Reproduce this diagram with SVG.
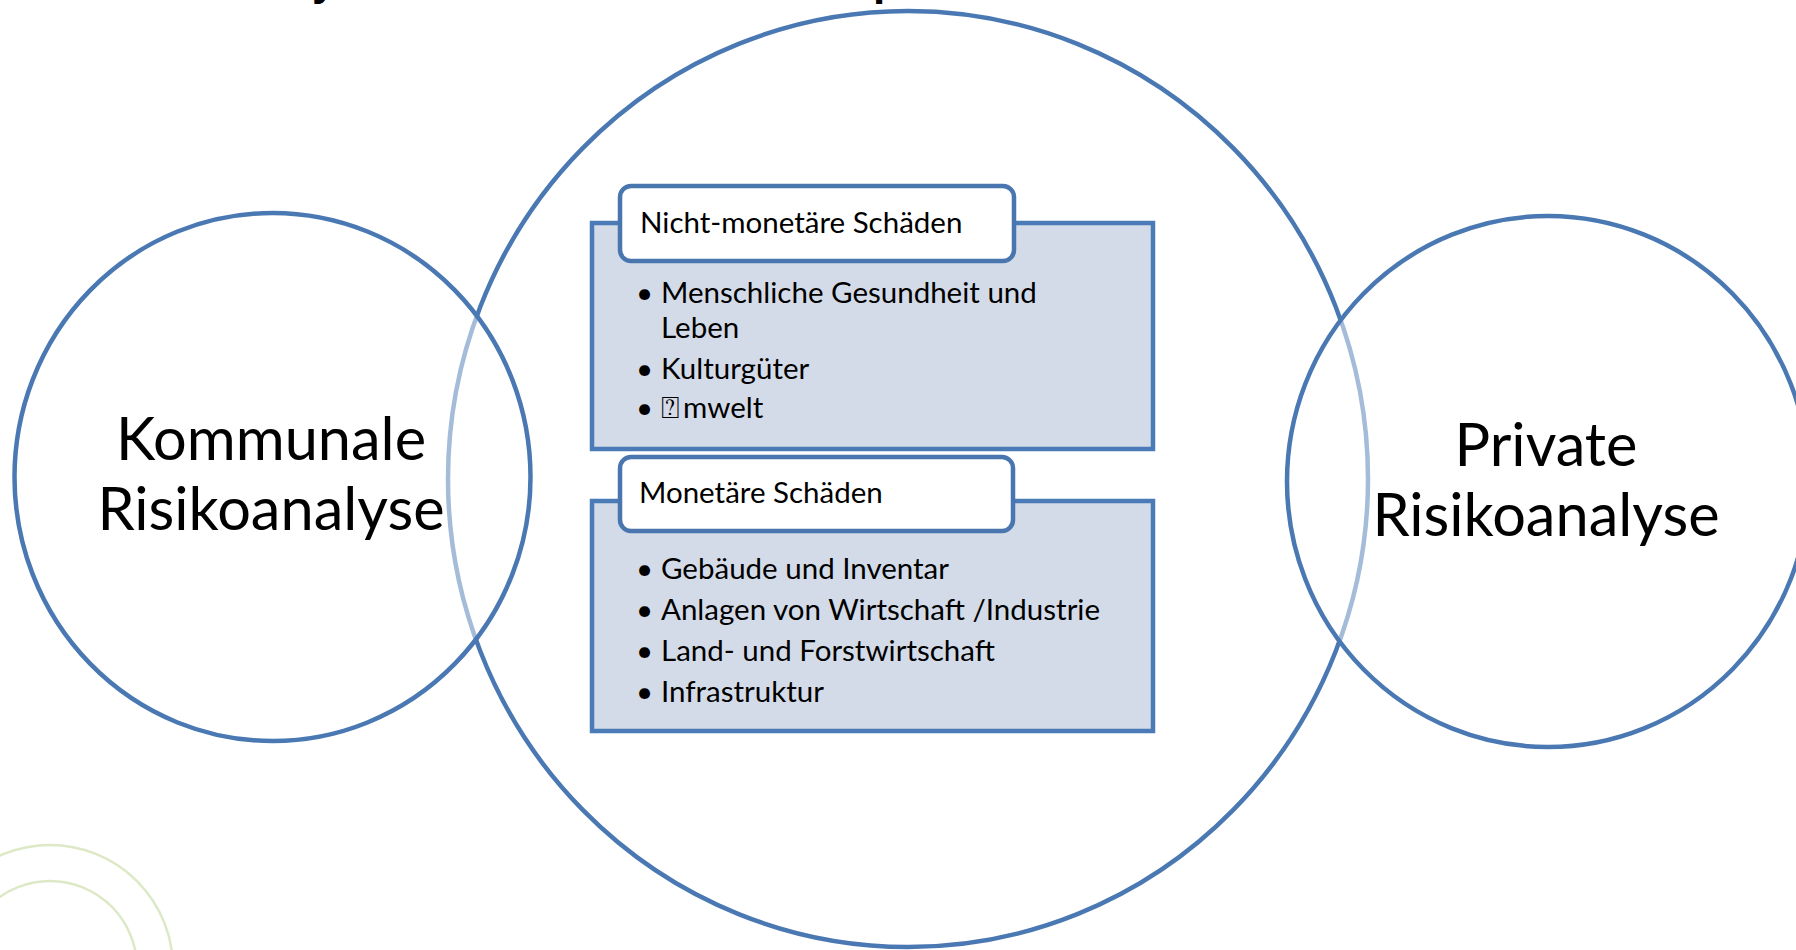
<svg xmlns="http://www.w3.org/2000/svg" width="1796" height="950" viewBox="0 0 1796 950">
<style>
.ring{fill:none;stroke:#4a78b3;stroke-width:4.5}
.side{fill:#ffffff;fill-opacity:0.5;stroke:#4a78b3;stroke-width:4.5}
.big{font-family:Lato,"Liberation Sans",sans-serif;font-size:59.5px;fill:#000;text-anchor:middle}
.t{font-family:Lato,"Liberation Sans",sans-serif;font-size:29.5px;fill:#000}
.panel{fill:#d4dbe8;stroke:#4a7bb7;stroke-width:4.5}
.head{fill:#ffffff;stroke:#4a76b0;stroke-width:4.5}
.deco{fill:none;stroke:#dde9c6;stroke-width:2.5}
.title{font-family:"Liberation Sans",sans-serif;font-size:44px;font-weight:bold;fill:#000}
</style>
<rect width="1796" height="950" fill="#ffffff"/>
<g id="title-fragments">
<text class="title" x="312" y="-5">y</text>
<text class="title" x="873" y="-5">p</text>
</g>
<g id="decoration">
<circle class="deco" cx="50" cy="968" r="123"/>
<circle class="deco" cx="50" cy="968" r="87"/>
</g>
<g id="center-circle">
<ellipse class="ring" cx="908" cy="479" rx="460" ry="468"/>
</g>
<g id="left-circle">
<ellipse class="side" cx="272.5" cy="477" rx="258" ry="264"/>
<text class="big" x="271" y="460">Kommunale</text>
<text class="big" x="271" y="530">Risikoanalyse</text>
</g>
<g id="right-circle">
<ellipse class="side" cx="1548" cy="481.5" rx="261" ry="265.5"/>
<text class="big" x="1546" y="466">Private</text>
<text class="big" x="1546" y="536">Risikoanalyse</text>
</g>
<g id="box-nichtmonetaer">
<rect class="panel" x="592" y="223" width="561" height="226"/>
<rect class="head" x="620" y="186" width="394" height="75" rx="11"/>
<text class="t" x="640" y="233">Nicht-monetäre Schäden</text>
<text class="t" x="636" y="303">•</text>
<text class="t" x="661" y="303">Menschliche Gesundheit und</text>
<text class="t" x="661" y="338">Leben</text>
<text class="t" x="636" y="379">•</text>
<text class="t" x="661" y="379">Kulturgüter</text>
<text class="t" x="636" y="418">•</text>
<text class="t" x="661" y="418"><tspan font-family="'DejaVu Sans',sans-serif" font-size="31">⍰</tspan><tspan dx="3">mwelt</tspan></text>
</g>
<g id="box-monetaer">
<rect class="panel" x="592" y="501" width="561" height="230"/>
<rect class="head" x="620" y="457" width="393" height="74" rx="11"/>
<text class="t" x="639" y="503">Monetäre Schäden</text>
<text class="t" x="636" y="579">•</text>
<text class="t" x="661" y="579">Gebäude und Inventar</text>
<text class="t" x="636" y="620">•</text>
<text class="t" x="661" y="620">Anlagen von Wirtschaft /Industrie</text>
<text class="t" x="636" y="661">•</text>
<text class="t" x="661" y="661">Land- und Forstwirtschaft</text>
<text class="t" x="636" y="702">•</text>
<text class="t" x="661" y="702">Infrastruktur</text>
</g>
<g id="connectors"></g>
</svg>
